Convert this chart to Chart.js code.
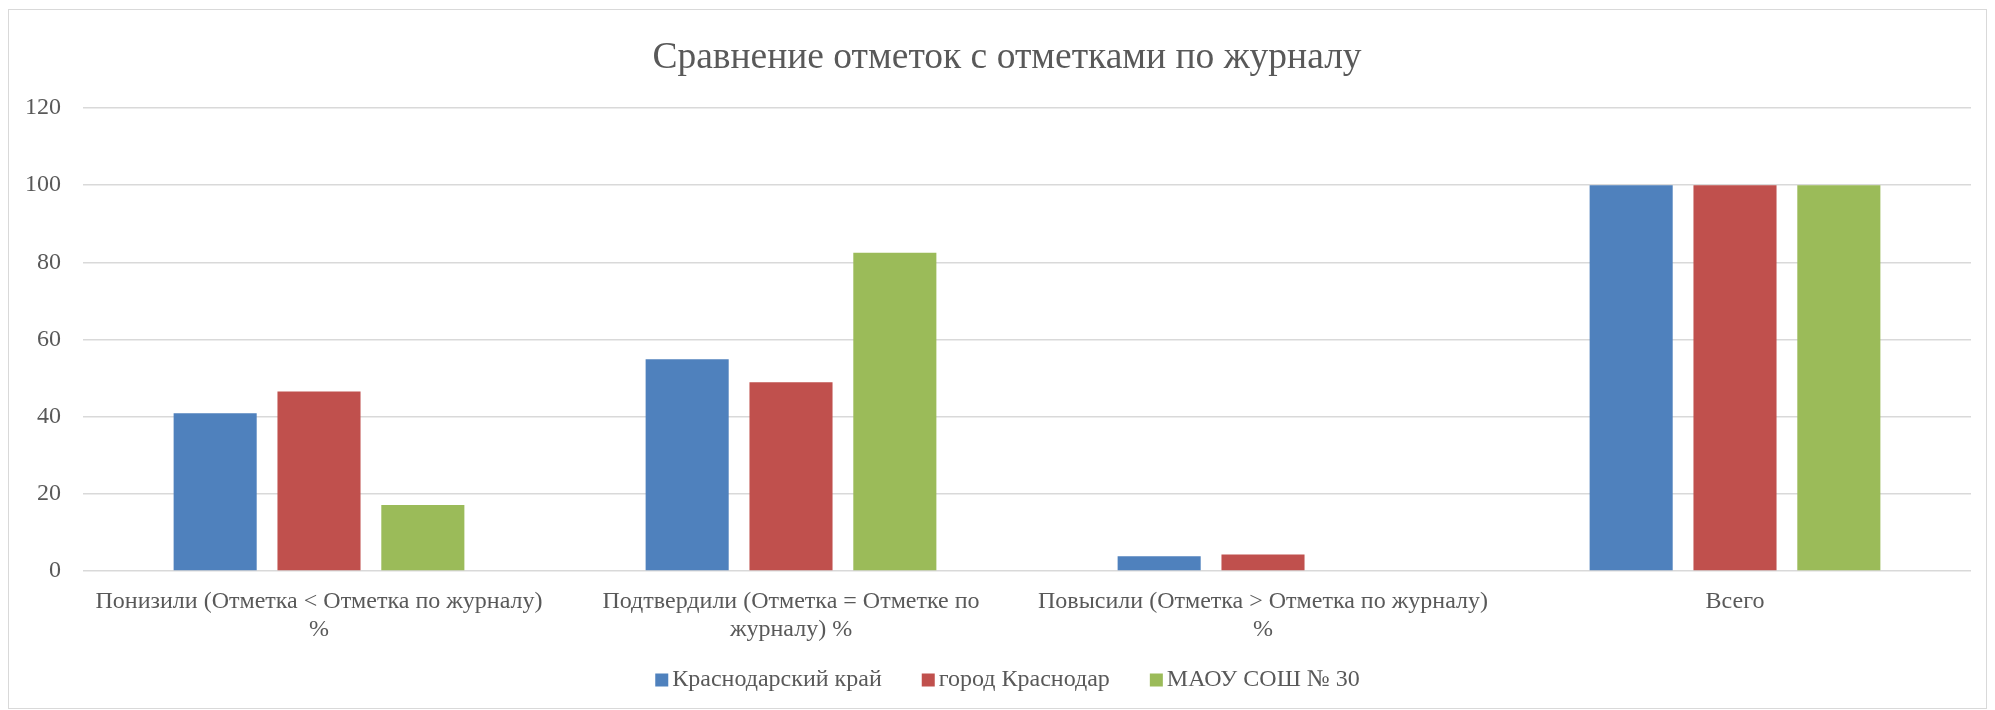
<!DOCTYPE html>
<html lang="ru">
<head>
    <meta charset="UTF-8">
    <title>Сравнение отметок с отметками по журналу</title>
    <script src="https://cdn.jsdelivr.net/npm/chart.js"></script>
    <style>
        body { margin: 0; background: #fff; }
        .box { position: absolute; left: 8px; top: 9px; width: 1977px; height: 698px; border: 1px solid #d9d9d9; }
    </style>
</head>
<body>
    <div class="box"><canvas id="chart" width="1977" height="698"></canvas></div>
    <script>
        const categories = [
            ["Понизили (Отметка < Отметка по журналу)", "%"],
            ["Подтвердили (Отметка = Отметке по", "журналу) %"],
            ["Повысили (Отметка > Отметка по журналу)", "%"],
            "Всего"
        ];
        const seriesNames = ["Краснодарский край", "город Краснодар", "МАОУ СОШ № 30"];
        const krai = [40.9, 54.9, 3.8, 100];
        const gorod = [46.5, 48.9, 4.3, 100];
        const school = [17.1, 82.5, 0, 100];
        const colors = ["#4f81bd", "#c0504d", "#9bbb59"];
        const yTicks = [0, 20, 40, 60, 80, 100, 120];

        const font = "'Liberation Serif', 'Times New Roman', serif";
        const grey = "#595959";

        // легенда как в Excel: квадратик почти вплотную к тексту
        const bottomLegend = {
            id: "bottomLegend",
            afterLayout(chart) {
                // заголовок в оригинале чуть правее центра
                chart.titleBlock.left += 24;
            },
            afterDraw(chart) {
                const ctx = chart.ctx;
                ctx.save();
                ctx.font = "24px " + font;
                ctx.textBaseline = "middle";
                const items = chart.data.datasets.map(d => ({ text: d.label, color: d.backgroundColor, w: ctx.measureText(d.label).width }));
                const box = 13, gap = 4, between = 40;
                let total = items.reduce((s, it) => s + box + gap + it.w, 0) + between * (items.length - 1);
                let x = chart.width / 2 + 10 - total / 2;
                const y = 670;
                items.forEach(it => {
                    ctx.fillStyle = it.color;
                    ctx.fillRect(x, y - box / 2, box, box);
                    ctx.fillStyle = grey;
                    ctx.fillText(it.text, x + box + gap, y);
                    x += box + gap + it.w + between;
                });
                ctx.restore();
            }
        };

        new Chart(document.getElementById("chart"), {
            type: "bar",
            data: {
                labels: categories,
                datasets: [krai, gorod, school].map((d, i) => ({
                    label: seriesNames[i],
                    data: d,
                    backgroundColor: colors[i],
                    categoryPercentage: 0.66,
                    barPercentage: 0.8
                }))
            },
            options: {
                responsive: false,
                animation: false,
                layout: { padding: { left: 10, right: 15, top: 0, bottom: 57 } },
                plugins: {
                    tooltip: { enabled: false },
                    legend: { display: false },
                    title: {
                        display: true,
                        text: "Сравнение отметок с отметками по журналу",
                        color: grey,
                        font: { family: font, size: 37.5, weight: "normal" },
                        padding: { top: 26, bottom: 27 }
                    }
                },
                scales: {
                    x: {
                        grid: { display: false },
                        border: { display: false },
                        ticks: { color: grey, font: { family: font, size: 24 }, padding: 8, maxRotation: 0 },
                        afterFit: s => { s.height = 80; }
                    },
                    y: {
                        min: 0,
                        max: 120,
                        afterBuildTicks: s => { s.ticks = yTicks.map(v => ({ value: v })); },
                        grid: { color: "#d9d9d9", lineWidth: 1.5, drawTicks: false },
                        border: { display: false },
                        ticks: { color: grey, font: { family: font, size: 24 }, padding: 22 },
                        afterFit: s => { s.width = 64; }
                    }
                }
            },
            plugins: [bottomLegend]
        });
    </script>
</body>
</html>
